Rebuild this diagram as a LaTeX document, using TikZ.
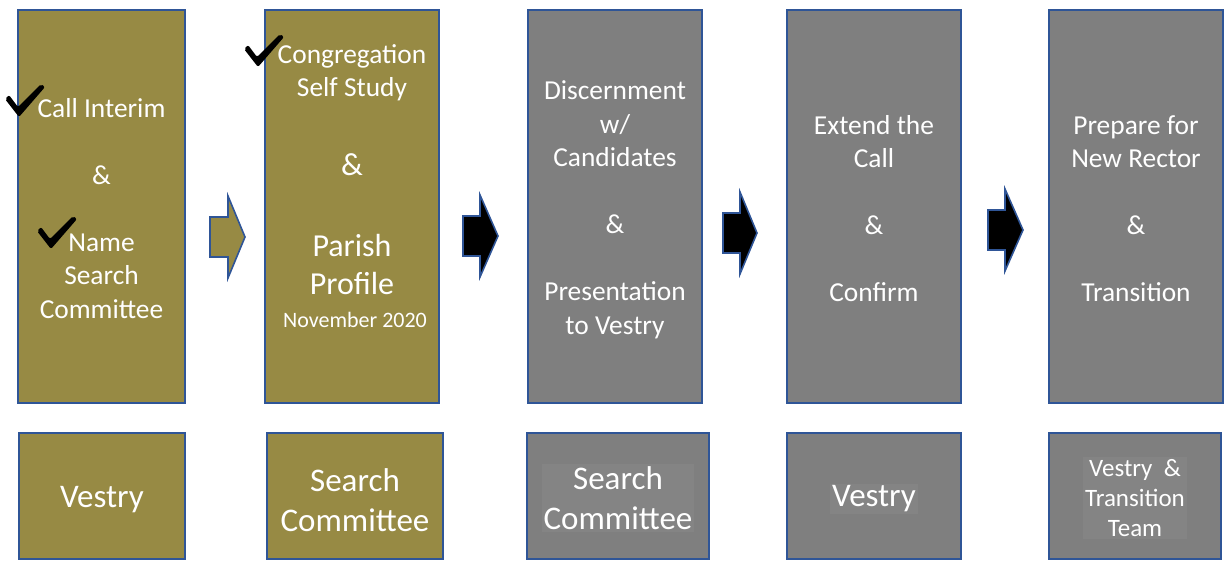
\documentclass[tikz,border=0pt]{standalone}
\usepackage{fontspec}
\setmainfont{Carlito}
\definecolor{olivebox}{RGB}{151,138,68}
\definecolor{greybox}{RGB}{127,127,127}
\definecolor{hilite}{RGB}{132,132,132}
\definecolor{edgeblue}{RGB}{47,85,151}
\tikzset{
  stage/.style={draw=edgeblue, line width=1pt, fill=#1, inner sep=0pt,
    minimum height=196.5pt},
  who/.style={draw=edgeblue, line width=1pt, fill=#1, inner sep=0pt,
    minimum height=63pt},
  steptext/.style={text=white, align=center, inner sep=0pt,
    font=\fontsize{13.7}{16.75}\selectfont},
  whotext/.style={text=white, align=center, inner sep=1pt,
    font=\fontsize{16.5}{20}\selectfont},
  donemark/.pic={
    \fill[black, rounded corners=1pt] (-13,-16) -- (-9,-20) -- (0,-8) -- (23,-31)
      -- (27,-28) -- (1,2) -- cycle;
  }
}
\begin{document}
\begin{tikzpicture}[x=0.5pt, y=-0.5pt]
  \useasboundingbox (0,0) rectangle (1228,562);
  % steps
  \node[stage=olivebox, minimum width=83.5pt] (s1) at (101.5,206.5) {};
  \node[stage=olivebox, minimum width=87pt] (s2) at (352,206.5) {};
  \node[stage=greybox, minimum width=87pt] (s3) at (615,206.5) {};
  \node[stage=greybox, minimum width=87pt] (s4) at (874,206.5) {};
  \node[stage=greybox, minimum width=87pt] (s5) at (1136,206.5) {};
  \node[steptext] (t1) at ([yshift=-1pt]s1.center)
    {Call Interim\\[16.75pt]\&\\[16.75pt]Name\\Search\\Committee};
  \node[steptext] (t3) at ([yshift=-1.75pt]s3.center)
    {Discernment\\w/\\Candidates\\[16.75pt]\&\\[16.75pt]Presentation\\to Vestry};
  \node[steptext] (t4) at ([yshift=-1pt]s4.center)
    {Extend the\\Call\\[16.75pt]\&\\[16.75pt]Confirm};
  \node[steptext] (t5) at ([yshift=-1pt]s5.center)
    {Prepare for\\New Rector\\[16.75pt]\&\\[16.75pt]Transition};
  % text of the second step
  \node[steptext] (t2top) at (352,72.5) {Congregation\\Self Study};
  \node[steptext, font=\fontsize{16}{19}\selectfont] (t2amp) at (352,165) {\&};
  \node[steptext, font=\fontsize{16}{19}\selectfont] (t2prof) at (352,264)
    {Parish\\Profile};
  \node[steptext, font=\fontsize{11}{13}\selectfont] (t2date) at (355,320)
    {November 2020};
  % done
  \pic at (18,115) {donemark};
  \pic at (50,247) {donemark};
  \pic at (257,65) {donemark};
  % arrows
  \foreach \xa/\xb/\xc/\yc/\col in {210/228/245/237/olivebox, 463/480/498/236/black,
      723/740/757/233/black, 988/1005/1023/230/black}
    \filldraw[fill=\col, draw=edgeblue, line width=0.8pt]
      (\xa,\yc-20) -- (\xb,\yc-20) -- (\xb,\yc-41) -- (\xc,\yc)
      -- (\xb,\yc+41) -- (\xb,\yc+20) -- (\xa,\yc+20) -- cycle;
  % who does it
  \node[who=olivebox, minimum width=83pt] (b1) at (102,496) {};
  \node[who=olivebox, minimum width=88pt] (b2) at (355,496) {};
  \node[who=greybox, minimum width=91pt] (b3) at (618,496) {};
  \node[who=greybox, minimum width=87pt] (b4) at (874,496) {};
  \node[who=greybox, minimum width=86pt] (b5) at (1135,496) {};
  \node[whotext] (w1) at (102,500) {Vestry};
  \node[whotext] (w2) at (355,500) {Search\\Committee};
  \node[whotext, fill=hilite] (w3) at (618,498) {Search\\Committee};
  \node[whotext, fill=hilite] (w4) at (874,499) {Vestry};
  \node[whotext, fill=hilite, font=\fontsize{12.5}{15}\selectfont] (w5) at (1135,498)
    {Vestry \ \&\\Transition\\Team};
\end{tikzpicture}
\end{document}
